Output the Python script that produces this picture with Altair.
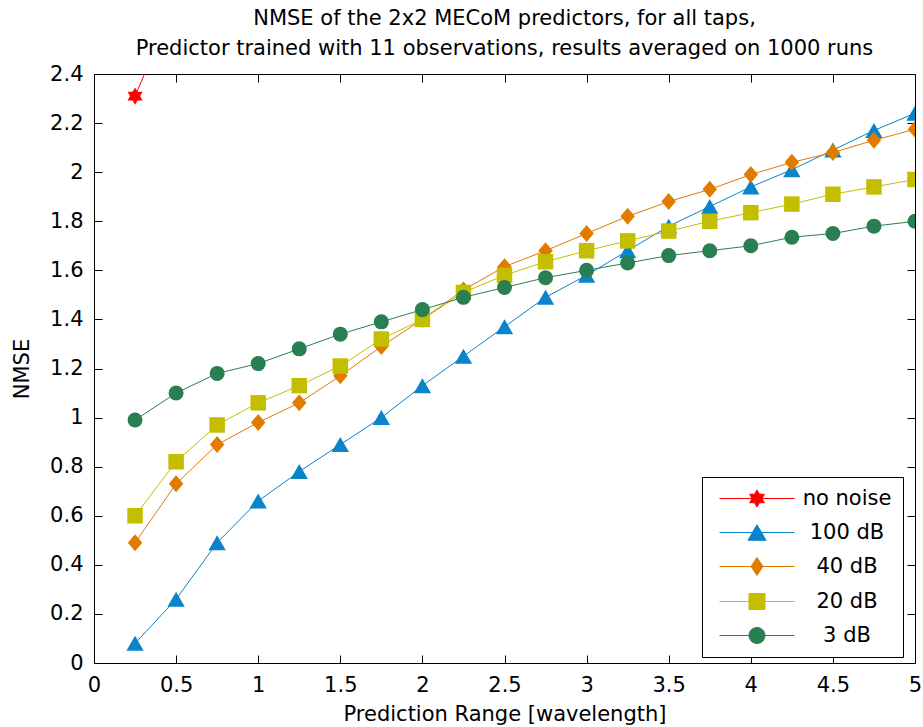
import math
import altair as alt
import pandas as pd

# ---------------- data ----------------
x_range = [0.25, 0.5, 0.75, 1.0, 1.25, 1.5, 1.75, 2.0, 2.25, 2.5,
           2.75, 3.0, 3.25, 3.5, 3.75, 4.0, 4.25, 4.5, 4.75, 5.0]
series_names = ["no noise", "100 dB", "40 dB", "20 dB", "3 dB"]

no_noise_x = [0.25, 0.5]
no_noise = [2.31, 2.70]
db100 = [0.08, 0.26, 0.49, 0.66, 0.78, 0.89, 1.00, 1.13, 1.25, 1.37,
         1.49, 1.58, 1.68, 1.78, 1.86, 1.94, 2.01, 2.09, 2.17, 2.24]
db40 = [0.49, 0.73, 0.89, 0.98, 1.06, 1.17, 1.29, 1.40, 1.52, 1.615,
        1.68, 1.75, 1.82, 1.88, 1.93, 1.99, 2.04, 2.08, 2.13, 2.175]
db20 = [0.60, 0.82, 0.97, 1.06, 1.13, 1.21, 1.32, 1.40, 1.51, 1.58,
        1.635, 1.68, 1.72, 1.76, 1.80, 1.835, 1.87, 1.91, 1.94, 1.97]
db3 = [0.99, 1.10, 1.18, 1.22, 1.28, 1.34, 1.39, 1.44, 1.49, 1.53,
       1.57, 1.60, 1.63, 1.66, 1.68, 1.70, 1.735, 1.75, 1.78, 1.80]

x_ticks = [0, 0.5, 1, 1.5, 2, 2.5, 3, 3.5, 4, 4.5, 5]
y_ticks = [0, 0.2, 0.4, 0.6, 0.8, 1, 1.2, 1.4, 1.6, 1.8, 2, 2.2, 2.4]

title_lines = ["NMSE of the 2x2 MECoM predictors, for all taps,",
               "Predictor trained with 11 observations, results averaged on 1000 runs"]

colors = ["#FF0000", "#0A84C8", "#E07B00", "#C4BE00", "#2A7F52"]

series_data = [("no noise", no_noise_x, no_noise),
               ("100 dB", x_range, db100),
               ("40 dB", x_range, db40),
               ("20 dB", x_range, db20),
               ("3 dB", x_range, db3)]

rows = []
for name, xs, ys in series_data:
    for xv, yv in zip(xs, ys):
        rows.append({"x": xv, "y": yv, "series": name})
df = pd.DataFrame(rows)

# ---------------- marker shapes ----------------
def fmt(v):
    return f"{v:.3f}"

def hexagram(cx, r):
    pts = []
    for k in range(12):
        ang = math.radians(-90 + 30 * k)
        rr = r if k % 2 == 0 else r / math.sqrt(3)
        pts.append((cx + rr * math.cos(ang), rr * math.sin(ang)))
    return "M" + "L".join(f"{fmt(a)},{fmt(b)}" for a, b in pts) + "Z"

def triangle(cx, r):
    h = math.sqrt(3) * r / 2
    return f"M{fmt(cx)},{fmt(-h)}L{fmt(cx - r)},{fmt(h)}L{fmt(cx + r)},{fmt(h)}Z"

def diamond(cx, w, h):
    return f"M{fmt(cx)},{fmt(-h)}L{fmt(cx + w)},0L{fmt(cx)},{fmt(h)}L{fmt(cx - w)},0Z"

def square(cx, r):
    return f"M{fmt(cx - r)},{fmt(-r)}L{fmt(cx + r)},{fmt(-r)}L{fmt(cx + r)},{fmt(r)}L{fmt(cx - r)},{fmt(r)}Z"

def circle(cx, r):
    return (f"M{fmt(cx + r)},0A{fmt(r)},{fmt(r)} 0 1,1 {fmt(cx - r)},0"
            f"A{fmt(r)},{fmt(r)} 0 1,1 {fmt(cx + r)},0Z")

data_shapes = [hexagram(0, 1), "triangle-up", diamond(0, 0.85, 1), "square", "circle"]
data_sizes = [300, 300, 289, 240, 225]

# legend symbols: unit = 7 px (symbolSize 196); line 75 px long with marker in middle
U = 7.0
L = 75.0 / U
c = -1 + L / 2
line = f"M-1,0L{fmt(-1 + L)},0"
legend_shapes = [
    line + hexagram(c, 8.5 / U),
    line + triangle(c, 9 / U),
    line + diamond(c, 6 / U, 9 / U),
    line + square(c, 8 / U),
    line + circle(c, 8 / U),
]

FONT = "DejaVu Sans"
FS = 21

xscale = alt.Scale(domain=[0, 5], nice=False, zero=False)
yscale = alt.Scale(domain=[0, 2.4], nice=False, zero=False)

common_axis = dict(domain=False, grid=False, ticks=True, tickSize=8, tickColor="black",
                   tickWidth=1, offset=-8, labelFont=FONT, labelFontSize=FS,
                   labelColor="black", labelFlush=False, labelOverlap=False,
                   titleFont=FONT, titleFontSize=FS, titleFontWeight="normal",
                   titleColor="black", format="~g")

x_axis = alt.Axis(values=x_ticks, title="Prediction Range [wavelength]", orient="bottom",
                  labelPadding=11, titlePadding=8, **common_axis)
y_axis = alt.Axis(values=y_ticks, title="NMSE", orient="left",
                  labelPadding=11, titlePadding=17, **common_axis)
x_axis_top = alt.Axis(values=x_ticks, title=None, orient="top", labels=False, **common_axis)
y_axis_right = alt.Axis(values=y_ticks, title=None, orient="right", labels=False, **common_axis)

layers = []
for i, (name, _, _) in enumerate(series_data):
    sub = alt.Chart(df).transform_filter(alt.datum.series == name)
    ln = sub.mark_line(strokeWidth=1, clip=True, color=colors[i]).encode(
        x=alt.X("x:Q", scale=xscale, axis=x_axis if i == 0 else None),
        y=alt.Y("y:Q", scale=yscale, axis=y_axis if i == 0 else None),
    )
    pt = sub.mark_point(filled=True, opacity=1, clip=True, strokeWidth=1,
                        color=colors[i], shape=data_shapes[i], size=data_sizes[i]).encode(
        x=alt.X("x:Q", scale=xscale, axis=None),
        y=alt.Y("y:Q", scale=yscale, axis=None),
    )
    layers += [ln, pt]

leg = alt.Legend(
    title=None, orient="none", legendX=608, legendY=403,
    fillColor="white", strokeColor="black", padding=11,
    symbolSize=196, symbolStrokeWidth=1, symbolOpacity=1, symbolOffset=3,
    labelFont=FONT, labelFontSize=FS, labelColor="black",
    labelAlign="center", labelOffset=110, rowPadding=12,
)

legend_layer = alt.Chart(df).transform_filter("datum.x < 0").mark_point(
    filled=True, strokeWidth=1, opacity=1).encode(
    x=alt.X("x:Q", scale=xscale, axis=x_axis_top),
    y=alt.Y("y:Q", scale=yscale, axis=y_axis_right),
    fill=alt.Fill("series:N", scale=alt.Scale(domain=series_names, range=colors), legend=leg),
    stroke=alt.Stroke("series:N", scale=alt.Scale(domain=series_names, range=colors), legend=leg),
    shape=alt.Shape("series:N", scale=alt.Scale(domain=series_names, range=legend_shapes), legend=leg),
)
layers.append(legend_layer)

chart = alt.layer(*layers).resolve_axis(
    x="independent", y="independent"
).properties(
    width=821, height=589,
    title=alt.TitleParams(text=title_lines, font=FONT, fontSize=FS, fontWeight="normal",
                          color="black", lineHeight=30, baseline="bottom", offset=-17,
                          anchor="middle"),
    autosize=alt.AutoSizeParams(type="none"),
    padding={"left": 94, "top": 74, "right": 8, "bottom": 64},
    background="white",
).configure_view(stroke="black", strokeWidth=1)

chart.save("out.html", embed_options={"renderer": "svg", "actions": False})
